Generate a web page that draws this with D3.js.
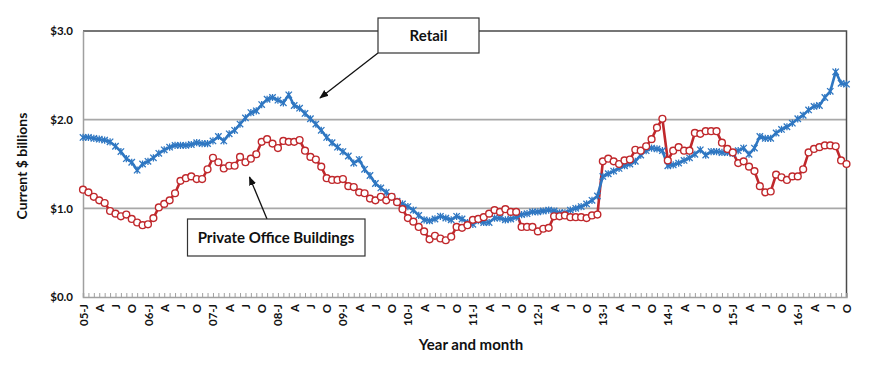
<!DOCTYPE html>
<html><head><meta charset="utf-8">
<script src="https://cdn.jsdelivr.net/npm/d3@7"></script>
<style>
body{margin:0;background:#fff;}
svg text{font-family:Lato,"Open Sans",sans-serif;}
</style></head>
<body><svg id="c" width="870" height="371"></svg>
<script>
const yearsShort = ["05","06","07","08","09","10","11","12","13","14","15","16"];
const quarterLetters = ["J","A","J","O"];
const yTicks = [0,1,2,3];
const retail = [
1.80,1.80,1.79,1.78,1.77,1.75,1.70,1.64,1.56,1.52,1.43,1.50,
1.53,1.57,1.62,1.66,1.69,1.71,1.71,1.71,1.72,1.74,1.73,1.73,
1.76,1.81,1.76,1.84,1.88,1.95,2.02,2.08,2.10,2.17,2.23,2.25,
2.22,2.19,2.28,2.16,2.13,2.07,2.01,1.95,1.88,1.80,1.74,1.69,
1.64,1.59,1.51,1.55,1.44,1.37,1.28,1.23,1.18,1.13,1.08,1.05,
1.02,0.98,0.92,0.87,0.86,0.88,0.91,0.89,0.87,0.91,0.88,0.84,
0.82,0.86,0.84,0.84,0.89,0.89,0.87,0.88,0.90,0.93,0.94,0.96,
0.96,0.97,0.98,0.97,0.95,0.95,0.98,1.00,1.02,1.05,1.09,1.14,
1.36,1.39,1.42,1.45,1.48,1.50,1.53,1.60,1.65,1.68,1.67,1.65,
1.48,1.49,1.51,1.54,1.57,1.61,1.66,1.60,1.64,1.64,1.63,1.63,
1.62,1.65,1.68,1.61,1.68,1.81,1.79,1.79,1.85,1.89,1.92,1.96,
2.01,2.05,2.11,2.15,2.16,2.25,2.32,2.54,2.41,2.40];
const office = [
1.21,1.18,1.13,1.09,1.06,0.97,0.94,0.91,0.93,0.88,0.84,0.81,
0.82,0.89,1.01,1.05,1.09,1.17,1.31,1.34,1.36,1.33,1.33,1.44,
1.57,1.52,1.45,1.48,1.48,1.58,1.52,1.56,1.61,1.75,1.78,1.73,
1.68,1.76,1.75,1.75,1.77,1.65,1.58,1.55,1.47,1.34,1.32,1.32,
1.33,1.25,1.24,1.18,1.17,1.11,1.09,1.13,1.09,1.13,1.07,0.99,
0.89,0.85,0.79,0.74,0.65,0.69,0.66,0.64,0.68,0.79,0.78,0.81,
0.87,0.88,0.90,0.94,0.98,0.96,0.99,0.96,0.96,0.79,0.79,0.79,
0.74,0.77,0.78,0.91,0.91,0.92,0.90,0.90,0.90,0.89,0.92,0.93,
1.53,1.56,1.53,1.50,1.54,1.55,1.66,1.65,1.70,1.78,1.91,2.01,
1.54,1.65,1.69,1.65,1.65,1.85,1.84,1.87,1.87,1.87,1.74,1.67,
1.63,1.51,1.53,1.47,1.42,1.25,1.18,1.19,1.38,1.35,1.32,1.36,
1.36,1.44,1.63,1.67,1.69,1.71,1.71,1.70,1.54,1.50];

const n = retail.length;
const monthIdx = d3.range(n);
function tickLabel(i){
  if (i % 3 !== 0) return "";
  const q = (i % 12) / 3;
  return q === 0 ? yearsShort[Math.floor(i/12)] + "-J" : quarterLetters[q];
}

const svg = d3.select("#c");
const L = 83, R = 846.5, T = 31, B = 297;
const x = d3.scaleLinear().domain([0, n-1]).range([L, R]);
const y = d3.scaleLinear().domain([0, 3]).range([B, T]);

// gridlines
svg.append("g").selectAll("line").data(yTicks.filter(d => d > 0 && d < 3)).join("line")
  .attr("x1", L).attr("x2", R).attr("y1", d => y(d)).attr("y2", d => y(d))
  .attr("stroke", "#a8a8a8").attr("stroke-width", 1.6);

// frame top/right
svg.append("path").attr("d", `M${L},${T}H${R}V${B}`).attr("fill","none")
  .attr("stroke","#4a4a4a").attr("stroke-width",1.5);

// y axis
const yAxis = svg.append("g").attr("transform", `translate(${L},0)`)
  .call(d3.axisLeft(y).tickValues(yTicks).tickSize(0).tickPadding(10).tickFormat(d => "$" + d.toFixed(1)));
yAxis.select(".domain").attr("stroke","#a0a0a0").attr("stroke-width",1.5);
yAxis.selectAll("text").attr("font-size", 11.5).attr("font-weight", 700).attr("fill","#111");

// x axis
const xAxis = svg.append("g").attr("transform", `translate(0,${B})`)
  .call(d3.axisBottom(x).tickValues(monthIdx).tickSize(-4).tickFormat(tickLabel));
xAxis.select(".domain").attr("stroke","#a0a0a0").attr("stroke-width",1.5);
xAxis.selectAll(".tick line").attr("stroke","#a0a0a0").attr("stroke-width",1);
xAxis.selectAll("text").attr("transform","rotate(-90)").attr("x",-7).attr("y",0)
  .attr("dy","0.35em").attr("text-anchor","end")
  .attr("font-size", 11.5).attr("font-weight", 700).attr("fill","#111");

// lines
const line = d3.line().x((d,i) => x(i)).y(d => y(d));
const blue = "#2f77c2", red = "#c0282c";
svg.append("path").datum(office).attr("d", line).attr("fill","none")
  .attr("stroke", red).attr("stroke-width", 2.6);
svg.append("path").datum(retail).attr("d", line).attr("fill","none")
  .attr("stroke", blue).attr("stroke-width", 2.6);

svg.append("g").selectAll("path").data(retail).join("path")
  .attr("transform", (d,i) => `translate(${x(i)},${y(d)})`)
  .attr("d", "M-3.2,-3.2L3.2,3.2M-3.2,3.2L3.2,-3.2M0,-3.6V3.6")
  .attr("stroke", blue).attr("stroke-width", 1.3).attr("fill","none");

svg.append("g").selectAll("circle").data(office).join("circle")
  .attr("cx", (d,i) => x(i)).attr("cy", d => y(d)).attr("r", 3.4)
  .attr("fill","#fff").attr("stroke", red).attr("stroke-width", 1.4);

// axis titles
svg.append("text").attr("transform","translate(27,166) rotate(-90)")
  .attr("text-anchor","middle").attr("font-size",14).attr("font-weight",700)
  .attr("fill","#111").text("Current $ billions");
svg.append("text").attr("x",471).attr("y",350)
  .attr("text-anchor","middle").attr("font-size",15).attr("font-weight",700)
  .attr("fill","#111").text("Year and month");

// annotations
svg.append("defs").append("marker").attr("id","ah").attr("viewBox","0 0 10 10")
  .attr("refX",9).attr("refY",5).attr("markerWidth",7).attr("markerHeight",7)
  .attr("orient","auto").append("path").attr("d","M0,1L10,5L0,9Z").attr("fill","#111");

svg.append("line").attr("x1",378).attr("y1",53).attr("x2",320).attr("y2",98)
  .attr("stroke","#111").attr("stroke-width",1.3).attr("marker-end","url(#ah)");
svg.append("rect").attr("x",378).attr("y",18).attr("width",101).attr("height",35)
  .attr("fill","#fff").attr("stroke","#333").attr("stroke-width",1.2);
svg.append("text").attr("x",428.5).attr("y",41).attr("text-anchor","middle")
  .attr("font-size",15).attr("font-weight",700).attr("fill","#111").text("Retail");

svg.append("line").attr("x1",267).attr("y1",219).attr("x2",249.5).attr("y2",177)
  .attr("stroke","#111").attr("stroke-width",1.3).attr("marker-end","url(#ah)");
svg.append("rect").attr("x",187.5).attr("y",219).attr("width",177.5).attr("height",37)
  .attr("fill","#fff").attr("stroke","#333").attr("stroke-width",1.2);
svg.append("text").attr("x",276).attr("y",243).attr("text-anchor","middle")
  .attr("font-size",15).attr("font-weight",700).attr("fill","#111").text("Private Office Buildings");
</script></body></html>
